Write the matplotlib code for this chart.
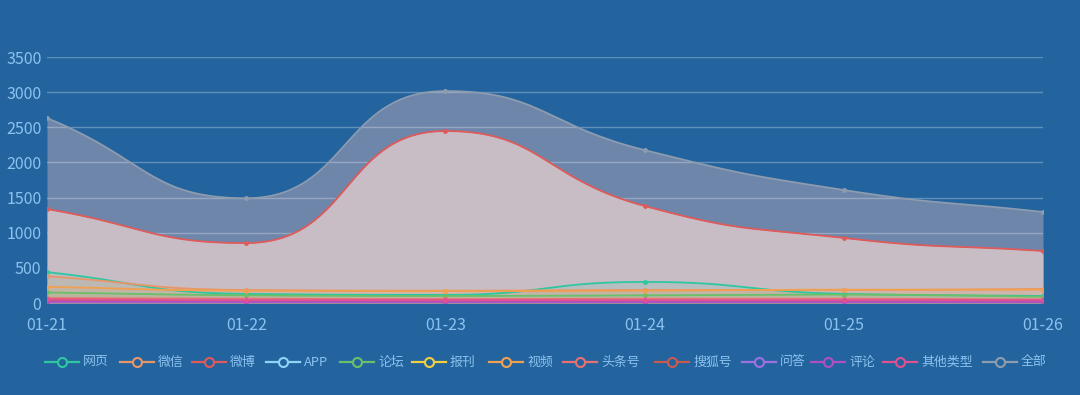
"""Recreate the daily volume chart (smooth area lines, echarts style)."""

import matplotlib

matplotlib.use("Agg")
import matplotlib.pyplot as plt
import numpy as np
from matplotlib.lines import Line2D

plt.rcParams["font.family"] = ["Noto Sans CJK SC", "DejaVu Sans"]

dates = ["01-21", "01-22", "01-23", "01-24", "01-25", "01-26"]
y_ticks = [0, 500, 1000, 1500, 2000, 2500, 3000, 3500]

names = ["网页", "微信", "微博", "APP", "论坛", "报刊", "视频",
         "头条号", "搜狐号", "问答", "评论", "其他类型", "全部"]
colors = ["#2ec7a0", "#e8956a", "#e05a5a", "#8fd3f5", "#6abf69", "#f0d040",
          "#f0a050", "#e87070", "#c85a50", "#a070e0", "#b050c0", "#e05090",
          "#8e9cb0"]

web = [440, 130, 115, 300, 130, 100]
wechat = [380, 185, 175, 185, 185, 200]
weibo = [1337, 853, 2447, 1380, 925, 740]
app = [60, 50, 45, 50, 50, 45]
forum = [150, 110, 100, 110, 120, 90]
press = [20, 15, 15, 10, 15, 10]
video = [230, 175, 170, 175, 190, 190]
toutiao = [70, 60, 55, 60, 60, 50]
sohu = [40, 30, 30, 30, 30, 30]
qa = [10, 5, 5, 5, 5, 5]
comment = [20, 15, 15, 15, 15, 15]
other = [50, 40, 40, 40, 40, 40]
total = [2630, 1490, 3015, 2175, 1607, 1295]

series = [web, wechat, weibo, app, forum, press, video,
          toutiao, sohu, qa, comment, other, total]

BG = "#23649f"
TEXT = "#8cc2ee"


def smooth_curve(px, py, smooth=0.5, n=40):
    """echarts-like bezier smoothing in pixel space with extreme clamping."""
    pts = list(zip(px, py))
    m = len(pts)
    cp_prev = [None] * m  # control before point
    cp_next = [None] * m  # control after point
    for i in range(m):
        x, y = pts[i]
        if i == 0:
            nx, ny = pts[1]
            cp_next[i] = (x + (nx - x) * smooth, y + (ny - y) * smooth)
            continue
        if i == m - 1:
            qx, qy = pts[i - 1]
            cp_prev[i] = (x - (x - qx) * smooth, y - (y - qy) * smooth)
            continue
        qx, qy = pts[i - 1]
        nx, ny = pts[i + 1]
        vx, vy = nx - qx, ny - qy
        lp = np.hypot(x - qx, y - qy)
        ln = np.hypot(nx - x, ny - y)
        r = ln / (ln + lp)
        ncx = x + vx * smooth * r
        ncy = y + vy * smooth * r
        ncx = max(min(ncx, max(nx, x)), min(nx, x))
        ncy = max(min(ncy, max(ny, y)), min(ny, y))
        vx, vy = ncx - x, ncy - y
        pcx = x - vx * lp / ln
        pcy = y - vy * lp / ln
        pcx = max(min(pcx, max(qx, x)), min(qx, x))
        pcy = max(min(pcy, max(qy, y)), min(qy, y))
        vx, vy = x - pcx, y - pcy
        ncx = x + vx * ln / lp
        ncy = y + vy * ln / lp
        cp_prev[i] = (pcx, pcy)
        cp_next[i] = (ncx, ncy)
    t = np.linspace(0, 1, n)[:, None]
    out = []
    for i in range(m - 1):
        p0 = np.array(pts[i])
        p1 = np.array(cp_next[i])
        p2 = np.array(cp_prev[i + 1])
        p3 = np.array(pts[i + 1])
        seg = ((1 - t) ** 3 * p0 + 3 * (1 - t) ** 2 * t * p1
               + 3 * (1 - t) * t ** 2 * p2 + t ** 3 * p3)
        out.append(seg if i == 0 else seg[1:])
    return np.vstack(out)


fig = plt.figure(figsize=(10.8, 3.95), dpi=100, facecolor=BG)
ax = fig.add_axes([47 / 1080, 92 / 395, 996 / 1080, 246 / 395])
ax.set_facecolor(BG)
x = np.arange(len(dates))
ax.set_xlim(0, len(dates) - 1)
ax.set_ylim(0, 3500)
for s in ax.spines.values():
    s.set_visible(False)

inv = ax.transData.inverted()


def curve(vals):
    pix = ax.transData.transform(np.column_stack([x, vals]))
    sm = smooth_curve(pix[:, 0], pix[:, 1])
    return inv.transform(sm)


# total area (bluish grey)
c_total = curve(total)
ax.fill_between(c_total[:, 0], c_total[:, 1], 0, color="#6d86aa", lw=0, zorder=1)
for t in y_ticks[1:]:
    ax.axhline(t, color="white", alpha=0.28, lw=1, zorder=1.5)

# weibo area (light pink)
c_weibo = curve(weibo)
ax.fill_between(c_weibo[:, 0], c_weibo[:, 1], 0, color="#c9bdc5", lw=0, zorder=2)

# small series fills and lines
for vals, col, name in zip(series, colors, names):
    if name in ("全部", "微博"):
        continue
    c = curve(vals)
    ax.fill_between(c[:, 0], c[:, 1], 0, color=col, alpha=0.12, lw=0, zorder=3)

for vals, col, name in zip(series, colors, names):
    c = curve(vals)
    z = 5 if name in ("全部", "微博") else 4
    ax.plot(c[:, 0], c[:, 1], color=col, lw=1.3, zorder=z, solid_capstyle="round")
    ax.plot(x, vals, "o", ms=2.5, color=col, zorder=z + 0.5)

ax.set_xticks(x)
ax.set_xticklabels(dates)
ax.set_yticks(y_ticks)
ax.tick_params(axis="both", colors=TEXT, labelsize=11.5, length=0, pad=4)
ax.tick_params(axis="x", pad=10)

# legend drawn manually, echarts style
icon_x = [45, 120, 192, 266, 340, 412, 489, 563, 655, 742, 811, 883, 983]
leg_y = 1 - 362 / 395
for name, col, ix in zip(names, colors, icon_x):
    x0 = ix / 1080
    x1 = (ix + 34) / 1080
    fig.add_artist(Line2D([x0, x1], [leg_y, leg_y], color=col, lw=1.6,
                          transform=fig.transFigure))
    fig.add_artist(Line2D([(x0 + x1) / 2], [leg_y], marker="o", ms=6.5,
                          mfc=BG, mec=col, mew=1.5, transform=fig.transFigure))
    fig.text((ix + 38) / 1080, leg_y, name, color=TEXT, fontsize=9.3,
             va="center", ha="left")

fig.savefig("out.png", dpi=100, facecolor=BG)
